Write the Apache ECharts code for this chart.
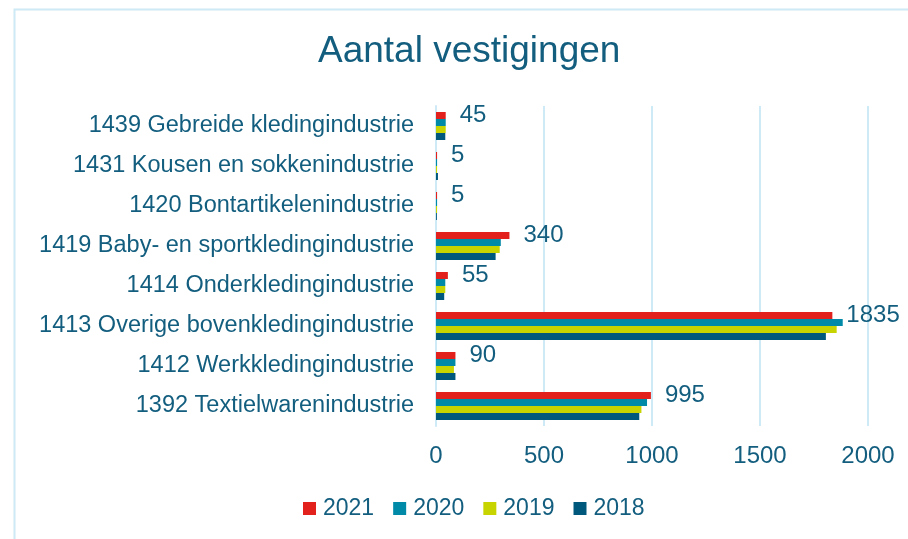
<!DOCTYPE html>
<html>
<head>
<meta charset="utf-8">
<script src="https://cdn.jsdelivr.net/npm/echarts@6/dist/echarts.min.js"></script>
<style>
  html, body { margin: 0; padding: 0; background: #fff; }
  #chart { width: 908px; height: 539px; }
</style>
</head>
<body>
<div id="chart"></div>
<script>
let categories = [
    '1439 Gebreide kledingindustrie',
    '1431 Kousen en sokkenindustrie',
    '1420 Bontartikelenindustrie',
    '1419 Baby- en sportkledingindustrie',
    '1414 Onderkledingindustrie',
    '1413 Overige bovenkledingindustrie',
    '1412 Werkkledingindustrie',
    '1392 Textielwarenindustrie'
];
let values2021 = [45, 5, 5, 340, 55, 1835, 90, 995];
let values2020 = [45, 5, 5, 300, 43, 1883, 90, 977];
let values2019 = [45, 5, 5, 295, 43, 1855, 83, 951];
let values2018 = [43, 9, 4, 276, 38, 1805, 90, 941];
let xTicks = [0, 500, 1000, 1500, 2000];

let textColor = '#135e7f';
let gridColor = '#cdeaf6';

let chart = echarts.init(document.getElementById('chart'));

function barSeries(name, data, color, withLabel) {
    return {
        name: name,
        type: 'bar',
        data: data,
        barGap: '0%',
        barCategoryGap: '30%',
        itemStyle: { color: color },
        label: {
            show: withLabel,
            position: 'right',
            distance: 14,
            color: textColor,
            fontSize: 24,
            fontFamily: 'Liberation Sans'
        }
    };
}

let options = {
    backgroundColor: '#fff',
    animation: false,
    textStyle: { fontFamily: 'Liberation Sans' },
    title: {
        text: 'Aantal vestigingen',
        left: 313,
        top: 28,
        textStyle: {
            color: textColor,
            fontSize: 37,
            fontWeight: 'normal',
            fontFamily: 'Liberation Sans'
        }
    },
    graphic: [{
        type: 'rect',
        shape: { x: 14.5, y: 9.5, width: 1000, height: 600 },
        style: { fill: 'none', stroke: gridColor, lineWidth: 2 },
        silent: true
    }],
    legend: {
        bottom: 14,
        left: 298,
        itemWidth: 13,
        itemHeight: 13,
        itemGap: 19,
        icon: 'rect',
        textStyle: { color: textColor, fontSize: 23, padding: [0, 0, 0, 2] },
        data: ['2021', '2020', '2019', '2018']
    },
    grid: {
        left: 436,
        right: 40,
        top: 106,
        bottom: 113,
        containLabel: false
    },
    xAxis: {
        type: 'value',
        min: 0,
        max: xTicks[xTicks.length - 1],
        interval: 500,
        axisLine: { show: false },
        axisTick: { show: false },
        axisLabel: {
            color: textColor,
            fontSize: 24,
            margin: 18,
            formatter: function (v) { return String(v); }
        },
        splitLine: { lineStyle: { color: gridColor, width: 2 } }
    },
    yAxis: {
        type: 'category',
        data: categories,
        inverse: true,
        axisLine: { show: true, lineStyle: { color: gridColor, width: 2 } },
        axisTick: { show: false },
        axisLabel: {
            color: textColor,
            fontSize: 23.5,
            margin: 22
        }
    },
    series: [
        barSeries('2021', values2021, '#e3211c', true),
        barSeries('2020', values2020, '#008aa8', false),
        barSeries('2019', values2019, '#c7d400', false),
        barSeries('2018', values2018, '#00587c', false)
    ]
};
chart.setOption(options);
</script>
</body>
</html>
